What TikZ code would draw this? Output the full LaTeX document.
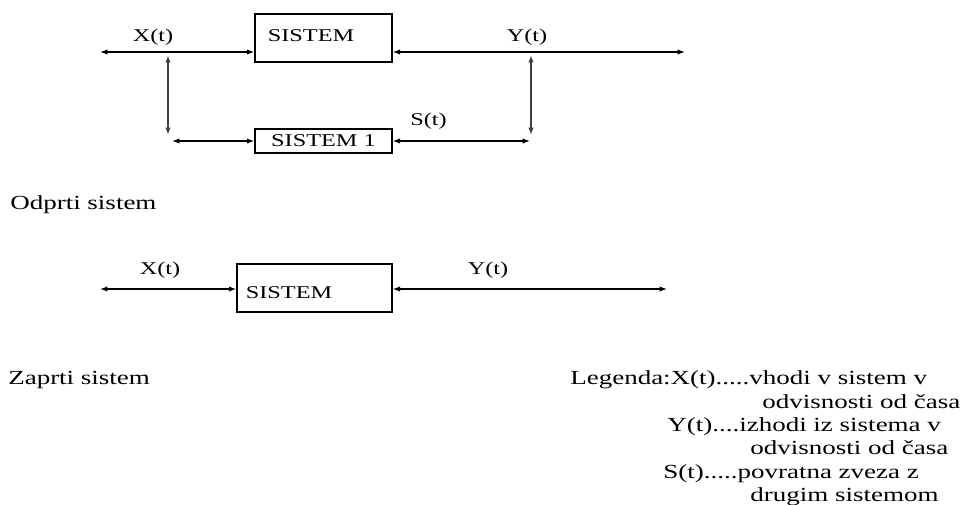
\documentclass[tikz,border=0pt]{standalone}
\usepackage{fontspec}
\setmainfont{Liberation Serif}[FakeStretch=1.35]
\usetikzlibrary{arrows.meta}
\begin{document}
\begin{tikzpicture}[x=0.75pt,y=-0.75pt,
  box/.style={draw, line width=1pt, inner sep=0pt},
  lbl/.style={font=\fontsize{13.5pt}{16pt}\selectfont, inner sep=0pt},
  txt/.style={font=\fontsize{15pt}{18pt}\selectfont, inner sep=0pt, anchor=base west},
  conn/.style={line width=1pt, {Latex[length=5.5pt,width=4pt]}-{Latex[length=5.5pt,width=4pt]}},
  vconn/.style={conn, line width=1.6pt, black!75}]
\useasboundingbox[fill=white] (0,0) rectangle (962,504);

% ---------- open system (top) ----------
\node[box, minimum width=102.75pt, minimum height=36pt] (s1) at (323.5,38) {};
\node[lbl] (s1l) at (311,36) {SISTEM};
\node[box, lbl, minimum width=102.75pt, minimum height=18pt] (s2) at (323.5,141) {SISTEM 1};

\coordinate (xl) at (100,52);
\coordinate (yr) at (685,52);
\coordinate (xv1) at (168,55);
\coordinate (xv2) at (168,135);
\coordinate (xb) at (172,141);
\coordinate (yv1) at (531,55);
\coordinate (yv2) at (531,135);
\coordinate (yb) at (530,141);

\draw[conn] (xl) -- (xl -| s1.west);
\draw[conn] (s1.east |- yr) -- (yr);
\draw[vconn] (xv1) -- (xv2);
\draw[vconn] (yv1) -- (yv2);
\draw[conn] (xb) -- (xb -| s2.west);
\draw[conn] (s2.east |- yb) -- (yb);

\node[lbl] (xt1) at (153,37) {X(t)};
\node[lbl] (yt1) at (527,37) {Y(t)};
\node[lbl] (st1) at (428.5,121) {S(t)};

\node[txt] (odp) at (10,209.5) {Odprti sistem};

% ---------- closed system (middle) ----------
\node[box, minimum width=116.25pt, minimum height=36pt] (s3) at (314.5,288) {};
\node[lbl] (s3l) at (289,293) {SISTEM};

\coordinate (xl2) at (100,289);
\coordinate (yr2) at (667,289);
\draw[conn] (xl2) -- (xl2 -| s3.west);
\draw[conn] (s3.east |- yr2) -- (yr2);

\node[lbl] (xt2) at (160,270) {X(t)};
\node[lbl] (yt2) at (488,270) {Y(t)};

\node[txt] (zap) at (8,384.5) {Zaprti sistem};

% ---------- legend ----------
\node[txt] (lg1) at (570,384.5) {Legenda:X(t).....vhodi v sistem v};
\node[txt] (lg2) at (762,408.5) {odvisnosti od časa};
\node[txt] (lg3) at (667,431.5) {Y(t)....izhodi iz sistema v};
\node[txt] (lg4) at (750,454.5) {odvisnosti od časa};
\node[txt] (lg5) at (663,478.5) {S(t).....povratna zveza z};
\node[txt] (lg6) at (750,501.5) {drugim sistemom};
\end{tikzpicture}
\end{document}
